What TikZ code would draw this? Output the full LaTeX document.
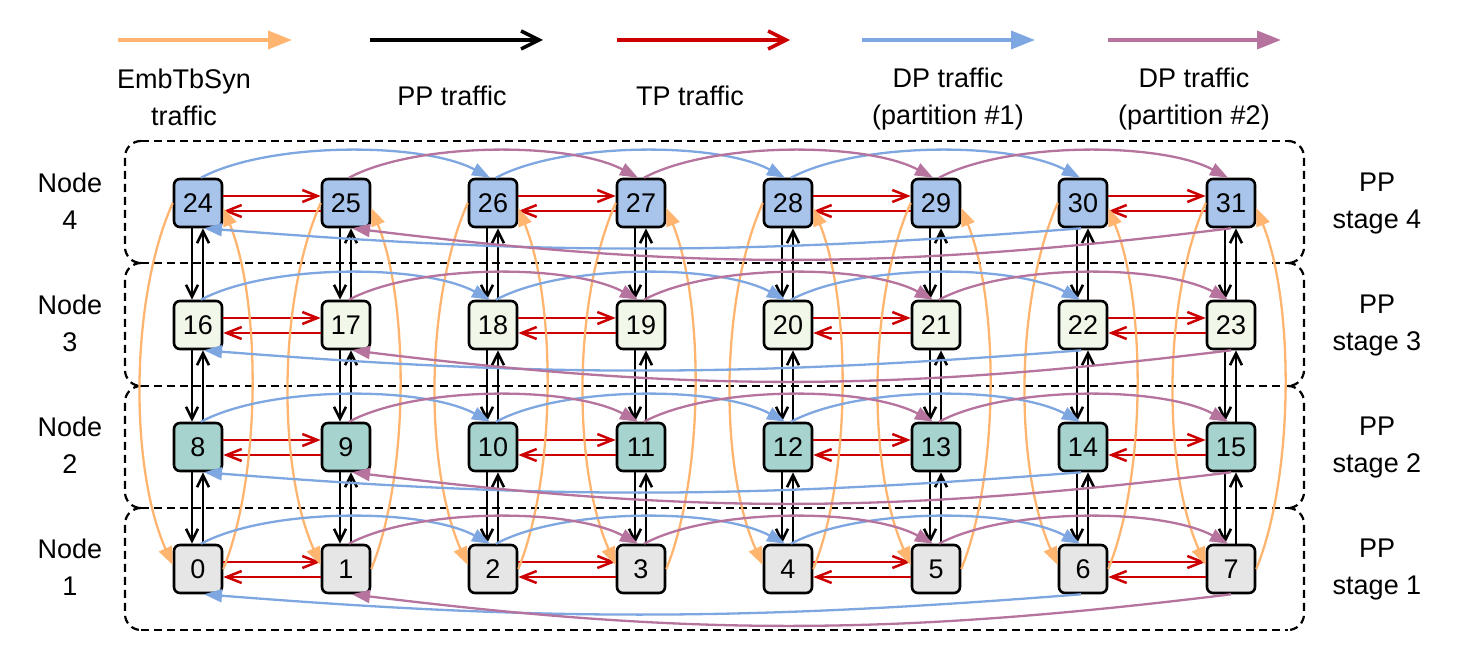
\documentclass[tikz,border=0pt]{standalone}
\usepackage{fontspec}
\setmainfont{Liberation Sans}
\usetikzlibrary{arrows.meta}
\definecolor{embC}{HTML}{FFB570}
\definecolor{tpC}{HTML}{CC0000}
\definecolor{dpaC}{HTML}{7EA6E0}
\definecolor{dpbC}{HTML}{B5739D}
\definecolor{rowD}{HTML}{A9C4EB}
\definecolor{rowC}{HTML}{F1F8E9}
\definecolor{rowB}{HTML}{A6D3CE}
\definecolor{rowA}{HTML}{E6E6E6}
\newcommand\txtfont{\fontsize{27}{37}\selectfont}
\newcommand\numfont{\fontsize{27}{32}\selectfont}
\begin{document}
\begin{tikzpicture}[x=1pt,y=-1pt,
 box/.style={draw=black,line width=2.6pt,rounded corners=6pt,minimum width=48pt,minimum height=48pt,inner sep=0pt,font=\numfont},
 lbl/.style={align=center,font=\txtfont,inner sep=0pt},
 cont/.style={draw=black,line width=2.2pt,dash pattern=on 8pt off 5pt,rounded corners=16pt},
 tp/.style={draw=tpC,line width=2.5pt,-{Straight Barb[length=15pt,width=12pt]}},
 pp/.style={draw=black,line width=2.6pt,-{Straight Barb[length=12pt,width=12pt]}},
 emb/.style={draw=embC,line width=2.3pt,-{Triangle[length=18pt,width=14pt]}},
 dpa/.style={draw=dpaC,line width=2.3pt,-{Triangle[length=18pt,width=13pt]}},
 dpb/.style={draw=dpbC,line width=2.3pt,-{Triangle[length=18pt,width=13pt]}},
 legline/.style={line width=3.5pt}
]
\useasboundingbox (0,0) rectangle (1468,652);

% containers (edges drawn left to right so shared borders coincide)
\foreach \ya/\yb in {141/263,263/386,386/508,508/630}{
  \draw[cont] (141,\ya) -- (1288,\ya);
  \draw[cont] (141,\yb) -- (1288,\yb);
  \draw[cont] (141,\ya) -- (125,\ya) -- (125,\yb) -- (141,\yb);
  \draw[cont] (1288,\ya) -- (1304,\ya) -- (1304,\yb) -- (1288,\yb);
}

% legend
\coordinate (la1) at (118,40); \coordinate (la2) at (292,40);
\coordinate (lb1) at (370,40); \coordinate (lb2) at (543,40);
\coordinate (lc1) at (617,40); \coordinate (lc2) at (790,40);
\coordinate (ld1) at (862,40); \coordinate (ld2) at (1035,40);
\coordinate (le1) at (1108,40); \coordinate (le2) at (1281,40);
\draw[legline,embC,-{Triangle[length=24pt,width=18pt]}] (la1) -- (la2);
\draw[legline,black,-{Straight Barb[length=18pt,width=18pt]}] (lb1) -- (lb2);
\draw[legline,tpC,-{Straight Barb[length=18pt,width=18pt]}] (lc1) -- (lc2);
\draw[legline,dpaC,-{Triangle[length=24pt,width=18pt]}] (ld1) -- (ld2);
\draw[legline,dpbC,-{Triangle[length=24pt,width=18pt]}] (le1) -- (le2);
\node[lbl] (lt1) at (184,97) {EmbTbSyn\\traffic};
\node[lbl,anchor=base] (lt2) at (452,106) {PP traffic};
\node[lbl,anchor=base] (lt3) at (690,106) {TP traffic};
\node[lbl] (lt4) at (948,99) {DP traffic\\(partition \#1)};
\node[lbl] (lt5) at (1194,99) {DP traffic\\(partition \#2)};

% boxes and side labels
\foreach \r/\col in {0/rowA,1/rowB,2/rowC,3/rowD}{
  \pgfmathtruncatemacro\k{\r+1}
  \node[lbl] (nodelbl\k) at (70,{567-122*\r}) {Node\\\k};
  \node[lbl] (stagelbl\k) at (1377,{570-122*\r}) {PP\\stage \k};
  \foreach \c/\x in {0/198,1/346,2/493,3/641,4/788,5/936,6/1083,7/1231}{
    \pgfmathtruncatemacro\i{8*\r+\c}
    \node[box,fill=\col] (n\i) at (\x,{569-122*\r}) {\i};
  }
}

% TP traffic
\foreach \r in {0,...,3}{
  \foreach \c in {0,2,4,6}{
    \pgfmathtruncatemacro\i{8*\r+\c}
    \pgfmathtruncatemacro\j{\i+1}
    \draw[tp] ([yshift=7pt]n\i.east) -- ([yshift=7pt]n\j.west);
    \draw[tp] ([yshift=-8pt]n\j.west) -- ([yshift=-8pt]n\i.east);
  }
}

% PP traffic
\foreach \r in {0,1,2}{
  \foreach \c in {0,...,7}{
    \pgfmathtruncatemacro\i{8*\r+\c}
    \pgfmathtruncatemacro\u{\i+8}
    \draw[pp] ([xshift=-6pt]n\u.south) -- ([xshift=-6pt]n\i.north);
    \draw[pp] ([xshift=5pt]n\i.north) -- ([xshift=5pt]n\u.south);
  }
}

% EmbTbSyn traffic
\foreach \c in {0,...,7}{
  \pgfmathtruncatemacro\t{24+\c}
  \draw[emb] (n\t.west) to[bend right=24,looseness=0.75] ([yshift=4pt]n\c.west);
  \draw[emb] (n\c.east) to[bend right=22,looseness=0.72] ([yshift=-5pt]n\t.east);
}

% DP traffic
\foreach \r in {0,...,3}{
  \foreach \c in {0,2,4}{
    \pgfmathtruncatemacro\i{8*\r+\c}
    \pgfmathtruncatemacro\j{\i+2}
    \draw[dpa] ([xshift=3pt]n\i.north) to[bend left=28,looseness=0.68] ([xshift=-3pt]n\j.north);
  }
  \foreach \c in {1,3,5}{
    \pgfmathtruncatemacro\i{8*\r+\c}
    \pgfmathtruncatemacro\j{\i+2}
    \draw[dpb] ([xshift=3pt]n\i.north) to[bend left=28,looseness=0.68] ([xshift=-3pt]n\j.north);
  }
  \pgfmathtruncatemacro\a{8*\r}
  \pgfmathtruncatemacro\b{8*\r+1}
  \pgfmathtruncatemacro\g{8*\r+6}
  \pgfmathtruncatemacro\h{8*\r+7}
  \draw[dpa] ([xshift=-2pt]n\g.south) to[bend left=4.5] ([xshift=6pt]n\a.south);
  \draw[dpb] (n\h.south) to[bend left=7] ([xshift=6pt]n\b.south);
}
\end{tikzpicture}
\end{document}
